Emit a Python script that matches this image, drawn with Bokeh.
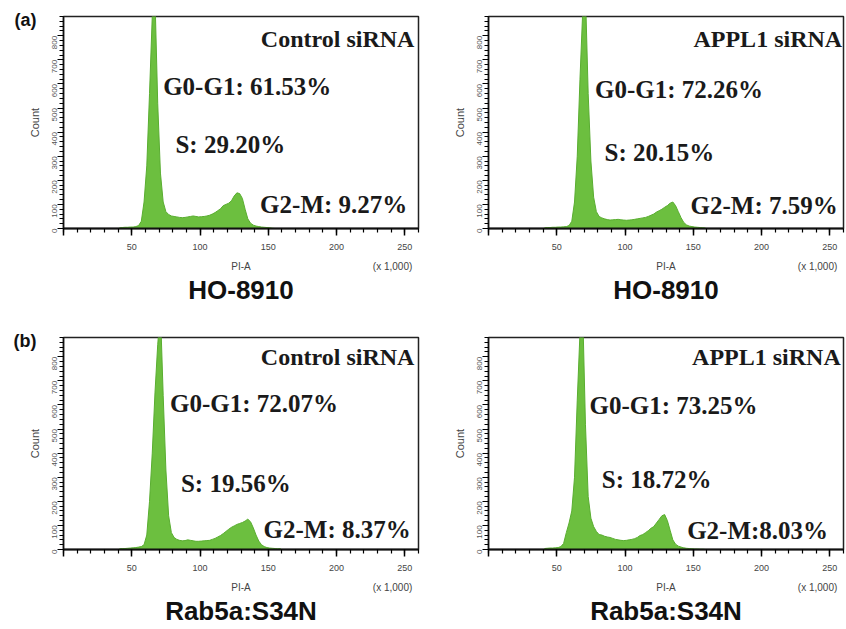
import math
from bokeh.plotting import figure
from bokeh.models import (Range1d, SingleIntervalTicker, FixedTicker, Label,
                          LinearAxis, ColumnDataSource)
from bokeh.layouts import gridplot
from bokeh.embed import file_html
from bokeh.resources import INLINE

# ---------------- data ----------------
# PI-A channel (x 1,000): bin centres of 2-unit bins from 40 to 160
pi_a = list(range(41, 161, 2))

ho_control = [3, 4, 5, 5, 6, 6, 8, 12, 30, 110,
              260, 560, 880, 960, 520, 230, 110, 70, 58, 52,
              50, 48, 46, 45, 46, 48, 50, 52, 50, 48,
              49, 50, 52, 55, 60, 66, 74, 82, 95, 100,
              105, 115, 135, 148, 145, 125, 80, 40, 22, 14,
              10, 8, 6, 5, 4, 3, 1, 0, 0, 0]

ho_appl1 = [3, 4, 4, 5, 5, 6, 6, 7, 8, 12,
            30, 110, 300, 620, 900, 980, 560, 280, 130, 70,
            50, 44, 40, 37, 35, 36, 37, 38, 36, 35,
            34, 35, 36, 38, 40, 42, 44, 46, 50, 55,
            60, 68, 74, 80, 88, 95, 105, 110, 95, 70,
            45, 25, 15, 10, 8, 6, 5, 4, 3, 2]

rab_control = [3, 4, 4, 5, 6, 7, 8, 10, 12, 20,
               60, 200, 400, 650, 850, 990, 640, 330, 140, 70,
               50, 42, 38, 36, 37, 40, 38, 36, 34, 34,
               35, 36, 37, 38, 42, 46, 52, 58, 66, 75,
               84, 92, 98, 104, 108, 112, 118, 126, 115, 90,
               60, 35, 20, 12, 8, 6, 5, 4, 3, 4]

rab_appl1 = [4, 5, 6, 6, 7, 8, 12, 25, 70, 110,
             160, 300, 620, 900, 990, 520, 220, 130, 95, 75,
             62, 60, 55, 52, 50, 46, 42, 40, 38, 37,
             38, 40, 42, 45, 50, 58, 62, 70, 78, 88,
             95, 110, 125, 140, 145, 120, 80, 40, 22, 14,
             10, 7, 5, 4, 3, 2, 2, 1, 1, 0]

conditions = ["Control siRNA", "APPL1 siRNA", "Control siRNA", "APPL1 siRNA"]
cell_lines = ["HO-8910", "HO-8910", "Rab5a:S34N", "Rab5a:S34N"]
g0g1_text = ["G0-G1: 61.53%", "G0-G1: 72.26%", "G0-G1: 72.07%", "G0-G1: 73.25%"]
s_text = ["S: 29.20%", "S: 20.15%", "S: 19.56%", "S: 18.72%"]
g2m_text = ["G2-M: 9.27%", "G2-M: 7.59%", "G2-M: 8.37%", "G2-M:8.03%"]
panel_tags = ["(a)", None, "(b)", None]
x_axis_title = "PI-A"
x_scale_note = "(x 1,000)"
y_axis_title = "Count"

x_ticks_interval = 50
y_ticks_interval = 100

# ---------------- styling ----------------
GREEN = "#6cbf3f"
GREEN_LINE = "#59ad30"
SANS = "Liberation Sans"
SERIF = "Liberation Serif"

# text anchor positions (data x, data y) per panel: G0-G1, S, G2-M, condition
label_pos = [
    [(73, 589), (82, 349), (144, 100), (257, 788)],
    [(78, 577), (85, 315), (148, 95), (259, 788)],
    [(78, 606), (86, 274), (146.5, 83), (257, 800)],
    [(74, 598), (83, 290), (145.5, 79), (258, 797)],
]

FRAME_W = 355
FRAME_H = 212


def make_panel(i, counts):
    left_col = i % 2 == 0
    top_row = i < 2
    b_left = 63 if left_col else 56
    b_right = 14 if left_col else 2
    b_top = 16 if top_row else 29
    b_bottom = 80
    p = figure(width=b_left + FRAME_W + b_right,
               height=b_top + FRAME_H + b_bottom,
               output_backend="svg", toolbar_location=None,
               x_range=Range1d(0, 260), y_range=Range1d(0, 880),
               min_border_left=b_left, min_border_right=b_right,
               min_border_top=b_top, min_border_bottom=b_bottom)
    p.background_fill_color = "white"
    p.border_fill_color = "white"
    p.outline_line_color = "#222222"
    p.outline_line_width = 1.5
    p.grid.visible = False

    src = ColumnDataSource(dict(x=pi_a, y=counts))
    p.varea(x="x", y1=0, y2="y", source=src, fill_color=GREEN, fill_alpha=1.0)
    p.line(x="x", y="y", source=src, line_color=GREEN_LINE, line_width=1)

    # main x axis (ticks + numbers)
    xa = p.xaxis[0]
    xa.ticker = SingleIntervalTicker(interval=x_ticks_interval, num_minor_ticks=5)
    xa.axis_label = None
    xa.major_label_text_font = SANS
    xa.major_label_text_font_size = "9px"
    xa.major_label_text_color = "#444444"
    xa.major_label_standoff = 8
    xa.axis_line_width = 2
    xa.axis_line_color = "#111111"
    xa.major_tick_in = 0
    xa.major_tick_out = 7
    xa.minor_tick_in = 0
    xa.minor_tick_out = 4
    xa.major_tick_line_width = 1.5
    xa.minor_tick_line_width = 1.2
    xa.major_label_overrides = {0: ""}

    # second x axis: "PI-A", "(x 1,000)" and the cell-line caption
    xb = LinearAxis(ticker=FixedTicker(ticks=[130, 241]),
                    major_label_overrides={130: x_axis_title, 241: x_scale_note})
    xb.axis_line_color = None
    xb.major_tick_line_color = None
    xb.minor_tick_line_color = None
    xb.major_tick_in = 0
    xb.major_tick_out = 0
    xb.minor_tick_in = 0
    xb.minor_tick_out = 0
    xb.major_label_standoff = 8
    xb.major_label_text_font = SANS
    xb.major_label_text_font_size = "10px"
    xb.major_label_text_color = "#444444"
    xb.axis_label = cell_lines[i]
    xb.axis_label_text_font = SANS
    xb.axis_label_text_font_size = "26px"
    xb.axis_label_text_font_style = "bold"
    xb.axis_label_text_color = "#111111"
    xb.axis_label_standoff = 0
    p.add_layout(xb, "below")

    # y axis
    ya = p.yaxis[0]
    ya.ticker = SingleIntervalTicker(interval=y_ticks_interval, num_minor_ticks=5)
    ya.axis_label = y_axis_title
    ya.axis_label_text_font = SANS
    ya.axis_label_text_font_size = "11px"
    ya.axis_label_text_font_style = "normal"
    ya.axis_label_text_color = "#444444"
    ya.axis_label_standoff = 6
    ya.major_label_text_font = SANS
    ya.major_label_text_font_size = "8px"
    ya.major_label_text_color = "#555555"
    ya.major_label_orientation = math.pi / 2
    ya.major_label_standoff = 3
    ya.axis_line_width = 1.5
    ya.axis_line_color = "#111111"
    ya.major_tick_in = 0
    ya.major_tick_out = 6
    ya.minor_tick_in = 0
    ya.minor_tick_out = 4
    ya.major_tick_line_width = 1.2
    ya.minor_tick_line_width = 1

    # panel tag "(a)" / "(b)" as a label-only axis outside the count axis
    if panel_tags[i]:
        ta = LinearAxis(ticker=FixedTicker(ticks=[866]),
                        major_label_overrides={866: panel_tags[i]})
        ta.axis_line_color = None
        ta.major_tick_line_color = None
        ta.minor_tick_line_color = None
        ta.major_tick_in = 0
        ta.major_tick_out = 0
        ta.minor_tick_in = 0
        ta.minor_tick_out = 0
        ta.major_label_orientation = "horizontal"
        ta.major_label_standoff = -11
        ta.major_label_text_font = SANS
        ta.major_label_text_font_size = "18px"
        ta.major_label_text_font_style = "bold"
        ta.major_label_text_color = "#111111"
        p.add_layout(ta, "left")

    pos = label_pos[i]
    texts = [g0g1_text[i], s_text[i], g2m_text[i]]
    for (lx, ly), t in zip(pos[:3], texts):
        p.add_layout(Label(x=lx, y=ly, text=t, text_font=SERIF,
                           text_font_style="bold", text_font_size="25px",
                           text_color="#1a1a1a", text_baseline="alphabetic",
                           text_align="left"))
    cx, cy = pos[3]
    p.add_layout(Label(x=cx, y=cy, text=conditions[i], text_font=SERIF,
                       text_font_style="bold", text_font_size="24px",
                       text_color="#1a1a1a", text_baseline="alphabetic",
                       text_align="right"))
    return p


series = [ho_control, ho_appl1, rab_control, rab_appl1]
panels = [make_panel(i, s) for i, s in enumerate(series)]

grid = gridplot([[panels[0], panels[1]], [panels[2], panels[3]]],
                toolbar_location=None)

open("out.html", "w").write(file_html(grid, INLINE))
